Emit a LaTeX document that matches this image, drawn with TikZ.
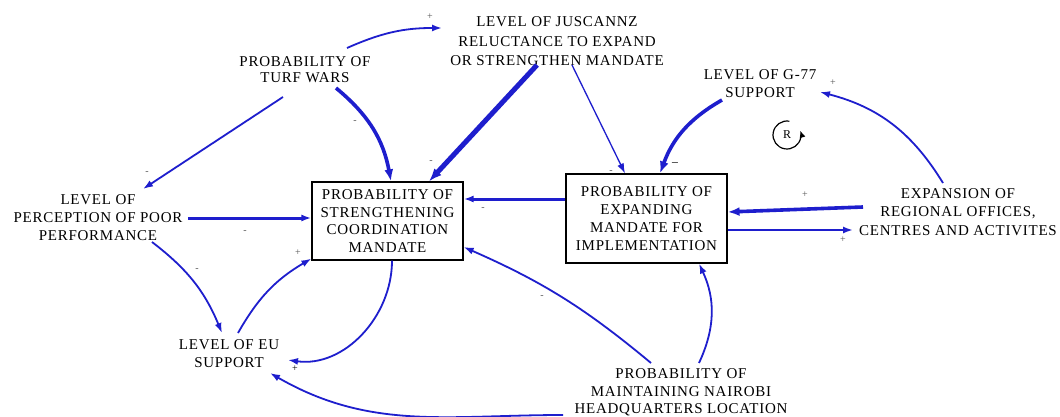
\documentclass[tikz,border=0pt]{standalone}
\usepackage{fontspec}
\setmainfont{Liberation Serif}
\newfontfamily\diagfont[LetterSpace=5]{Liberation Serif}
\usetikzlibrary{arrows.meta}
\definecolor{linkblue}{RGB}{30,30,205}
\definecolor{signgray}{RGB}{85,85,85}

\begin{document}
\begin{tikzpicture}[x=1pt,y=1pt,
  var/.style={align=center, inner sep=0pt,
    font={\diagfont\fontsize{15}{#1}\selectfont}},
  box/.style={draw=black, line width=1.2pt, inner sep=0pt, align=center,
    font={\diagfont\fontsize{15}{#1}\selectfont}},
  link/.style={draw=linkblue, line width=1.8pt,
    -{Latex[length=10pt,width=7pt]}},
  thinlink/.style={link, line width=1.3pt},
  midlink/.style={link, line width=3pt},
  heavylink/.style={link, line width=3.6pt,
    -{Latex[length=12pt,width=9pt]}},
  heaviestlink/.style={link, line width=5pt,
    -{Latex[length=13pt,width=10pt]}},
  sign/.style={text=signgray, inner sep=0pt, font=\fontsize{10}{10}\selectfont},
]
% canvas
\fill[white] (0,0) rectangle (1060,-417);
\useasboundingbox (0,0) rectangle (1060,-417);

% variables
\node[var=19.5] (jus) at (557,-41.5)
  {LEVEL OF JUSCANNZ\\RELUCTANCE TO EXPAND\\OR STRENGTHEN MANDATE};
\node[var=16] (turf) at (305,-70) {PROBABILITY OF\\TURF WARS};
\node[var=18] (gsev) at (760,-84) {LEVEL OF G-77\\SUPPORT};
\node[var=18] (perc) at (98,-217.5)
  {LEVEL OF\\PERCEPTION OF POOR\\PERFORMANCE};
\node[box=17.5, minimum width=151pt, minimum height=78pt] (coord) at (387.5,-221)
  {PROBABILITY OF\\STRENGTHENING\\COORDINATION\\MANDATE};
\node[box=18, minimum width=161pt, minimum height=89pt] (expm) at (646.5,-218.5)
  {PROBABILITY OF\\EXPANDING\\MANDATE FOR\\IMPLEMENTATION};
\node[var=18.5] (region) at (958,-212)
  {EXPANSION OF\\REGIONAL OFFICES,\\CENTRES AND ACTIVITES};
\node[var=18] (eu) at (229,-354) {LEVEL OF EU\\SUPPORT};
\node[var=17.5] (nairobi) at (681,-392.5)
  {PROBABILITY OF\\MAINTAINING NAIROBI\\HEADQUARTERS LOCATION};

% reinforcing loop marker
\node[inner sep=0pt, font=\fontsize{12}{12}\selectfont] (loopR) at (787,-135) {R};
\draw[black, line width=1.2pt, -{Latex[length=7pt,width=6pt]}]
  ([shift={(80:14)}]loopR.center) arc[start angle=80, end angle=378, radius=14];

% causal links
\draw[link] ([shift={(42,22)}]turf.center) to[bend left=12]
  ([shift={(-115,13.5)}]jus.center);
\draw[link] ([shift={(-22,-27)}]turf.center) --
  ([shift={(45,28.5)}]perc.center);
\draw[heavylink] ([shift={(31,-18)}]turf.center) to[bend left=20]
  ([xshift=3.5]coord.north);
\draw[heaviestlink] ([shift={(-20,-23.5)}]jus.center) --
  ([xshift=41.5]coord.north);
\draw[thinlink] ([shift={(15,-23.5)}]jus.center) --
  ([xshift=-21.5]expm.north);
\draw[heavylink] ([shift={(-38,-16)}]gsev.center) to[bend right=20]
  ([xshift=13.5]expm.north);
\draw[link] ([shift={(-15,29)}]region.center) to[bend right=22]
  ([shift={(60,-8)}]gsev.center);
\draw[heavylink] ([shift={(-95,5)}]region.center) --
  ([yshift=6.5]expm.east);
\draw[link] ([yshift=-11.5]expm.east) --
  ([shift={(-105,-18)}]region.center);
\draw[midlink] ([yshift=19.5]expm.west) -- ([yshift=22]coord.east);
\draw[midlink] ([shift={(90,-0.5)}]perc.center) -- ([yshift=3]coord.west);
\draw[link] ([shift={(54,-24.5)}]perc.center) to[bend left=15]
  ([shift={(-7,21)}]eu.center);
\draw[link] ([shift={(9,21)}]eu.center) to[bend left=15]
  ([yshift=2]coord.south west);
\draw[link] ([xshift=4.5]coord.south) to[out=-90, in=-8]
  ([shift={(59,-6)}]eu.center);
\draw[link] ([shift={(-30,29.5)}]nairobi.center) to[bend right=8]
  ([yshift=-26]coord.east);
\draw[link] ([shift={(18,29.5)}]nairobi.center) to[bend right=25]
  ([xshift=52.5]expm.south);
\draw[link] ([shift={(-118,-22.5)}]nairobi.center) to[out=180, in=-30]
  ([shift={(41,-19)}]eu.center);

% link polarities
\node[sign] (s1) at (430,-17) {+};
\node[sign] (s2) at (147,-173) {-};
\node[sign] (s3) at (355,-122) {-};
\node[sign] (s4) at (431,-162) {-};
\node[sign] (s5) at (611,-172) {-};
\node[sign, text=black, font=\fontsize{13}{13}\selectfont] (s6) at (675,-165) {\textminus};
\node[sign] (s7) at (833,-83) {+};
\node[sign] (s8) at (805,-195) {+};
\node[sign] (s9) at (843,-240) {+};
\node[sign] (s10) at (483,-209) {-};
\node[sign] (s11) at (245,-232) {-};
\node[sign] (s12) at (197,-270) {-};
\node[sign] (s13) at (298,-253) {+};
\node[sign, text=black] (s14) at (295,-369) {+};
\node[sign] (s15) at (542,-297) {-};
\end{tikzpicture}
\end{document}
